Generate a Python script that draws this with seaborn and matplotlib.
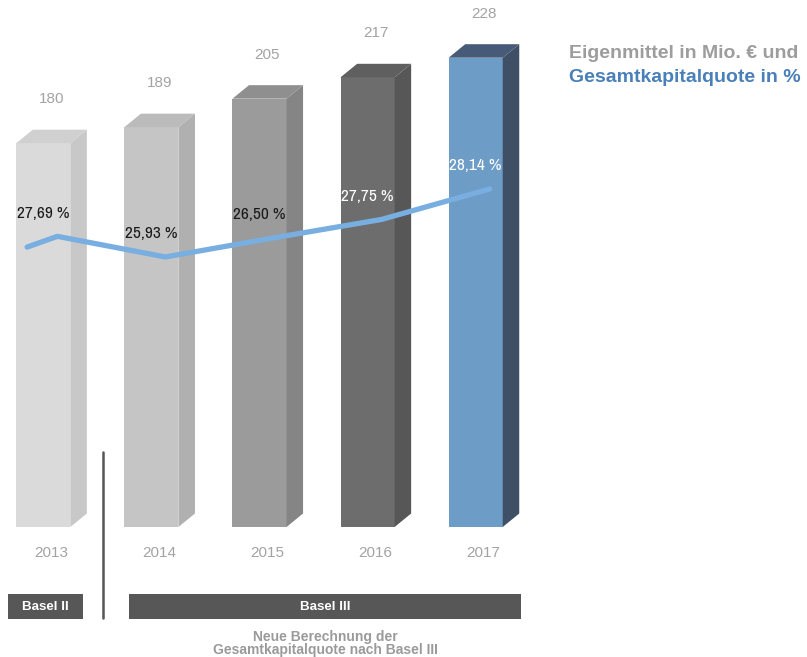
import matplotlib
matplotlib.use("Agg")
import matplotlib.pyplot as plt
import seaborn as sns
import numpy as np
import pandas as pd
from matplotlib.patches import Polygon, Rectangle
from matplotlib import font_manager

years = ["2013", "2014", "2015", "2016", "2017"]
eigenmittel = [180, 189, 205, 217, 228]
quote_labels = ["27,69 %", "25,93 %", "26,50 %", "27,75 %", "28,14 %"]
# line heights as drawn in the picture (in % units)
quote_line = [26.6, 25.93, 26.55, 27.15, 28.14]
quote_line_start = 26.25
front_colors = ["#dadada", "#c5c5c5", "#9b9b9b", "#6d6d6d", "#6d9cc6"]
side_colors = ["#c8c8c8", "#b0b0b0", "#858585", "#575757", "#3f4f66"]
top_colors = ["#d0d0d0", "#bbbbbb", "#8f8f8f", "#5f5f5f", "#475a78"]
pct_colors = ["#1a1a1a", "#1a1a1a", "#1a1a1a", "#ffffff", "#ffffff"]
periods = ["Basel II", "Basel III"]
note_lines = ["Neue Berechnung der", "Gesamtkapitalquote nach Basel III"]
legend_lines = ["Eigenmittel in Mio. € und", "Gesamtkapitalquote in %"]

sns.set_theme(style="white")
plt.rcParams["font.family"] = ["Liberation Sans", "DejaVu Sans"]
names = {f.name for f in font_manager.fontManager.ttflist}
narrow = ["Archivo Narrow", "Liberation Sans"] if "Archivo Narrow" in names else ["Liberation Sans"]

W, H = 807, 657
fig = plt.figure(figsize=(W / 100, H / 100), dpi=100)
ax = fig.add_axes([0, (H - 527) / H, 1, 527 / H])

df = pd.DataFrame({"year": years, "value": eigenmittel})
sns.barplot(data=df, x="year", y="value", hue="year", palette=front_colors,
            width=0.5, saturation=1, legend=False, ax=ax, linewidth=0, zorder=2)

base = -35.5
dx, dy = 0.153, 7.58
bars = list(ax.patches)
for p in bars:
    i = int(round(p.get_x() + p.get_width() / 2))
    v = eigenmittel[i]
    p.set_y(base)
    p.set_height(v - base)
    x0 = p.get_x()
    x1 = x0 + p.get_width()
    ax.add_patch(Polygon([(x1, base), (x1 + dx, base + dy), (x1 + dx, v + dy), (x1, v)],
                         closed=True, facecolor=side_colors[i], edgecolor="none", zorder=2))
    ax.add_patch(Polygon([(x0, v), (x0 + dx, v + dy), (x1 + dx, v + dy), (x1, v)],
                         closed=True, facecolor=top_colors[i], edgecolor="none", zorder=2))
    ax.annotate(str(v), xy=(i, v), xytext=(8, 44), textcoords="offset pixels",
                ha="center", va="center", fontsize=11, color="#a3a3a3")
    ax.annotate(years[i], xy=(i, 0), xycoords=("data", "axes fraction"),
                xytext=(8, -26), textcoords="offset pixels",
                ha="center", va="center", fontsize=11, color="#a3a3a3")

ax.set_ylim(base, 260.4)
ax.axis("off")

ax2 = ax.twinx()
line_x = np.concatenate([[-0.15], np.arange(len(years)) + 0.13])
line_y = np.concatenate([[quote_line_start], quote_line])
sns.lineplot(x=line_x, y=line_y, ax=ax2, color="#78aee0", linewidth=3.8,
             solid_capstyle="round", solid_joinstyle="round", sort=False, zorder=3)
ax2.set_ylim(17.155, 34.28)
ax2.axis("off")
for i, lbl in enumerate(quote_labels):
    ax2.annotate(lbl, xy=(i, quote_line[i]), xytext=(0, 23), textcoords="offset pixels",
                 ha="center", va="center", fontsize=12.5, color=pct_colors[i], family=narrow)

ax.set_xlim(-0.4006, 7.065)
ax2.set_xlim(-0.4006, 7.065)

ov = fig.add_axes([0, 0, 1, 1])
ov.set_xlim(0, W)
ov.set_ylim(H, 0)
ov.axis("off")
ov.add_patch(Rectangle((7.6, 594), 75, 24.5, facecolor="#575757", edgecolor="none"))
ov.add_patch(Rectangle((129, 594), 392, 24.5, facecolor="#575757", edgecolor="none"))
ov.text(45.5, 606.5, periods[0], ha="center", va="center", color="white", fontsize=9.6, fontweight="bold")
ov.text(325, 606.5, periods[1], ha="center", va="center", color="white", fontsize=9.6, fontweight="bold")
ov.plot([103.3, 103.3], [452, 618], color="#555555", lw=1.8)
ov.text(325.5, 636.5, note_lines[0], ha="center", va="center", color="#9a9a9a", fontsize=10, fontweight="bold")
ov.text(325.5, 650, note_lines[1], ha="center", va="center", color="#9a9a9a", fontsize=10, fontweight="bold")
ov.text(569, 53, legend_lines[0], ha="left", va="center", color="#9d9d9d", fontsize=14, fontweight="bold")
ov.text(569, 77, legend_lines[1], ha="left", va="center", color="#4a80b9", fontsize=14, fontweight="bold")

fig.savefig("out.png", dpi=100)
